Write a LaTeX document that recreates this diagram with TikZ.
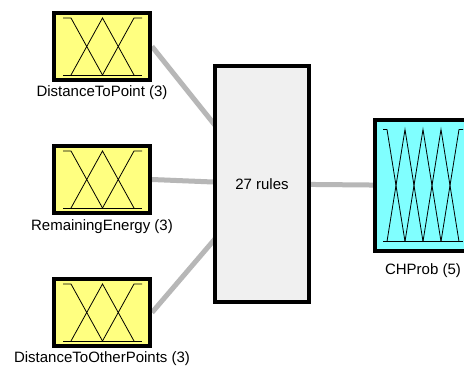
\documentclass[tikz,border=0pt]{standalone}
\usepackage{fontspec}
\setmainfont{Liberation Sans}
\usetikzlibrary{backgrounds}
\definecolor{inyellow}{RGB}{255,255,128}
\definecolor{outcyan}{RGB}{128,255,255}
\definecolor{rulegray}{RGB}{240,240,240}
\definecolor{conngray}{RGB}{183,183,183}
\tikzset{
  varbox/.style={draw=black, line width=4pt, rectangle, inner sep=0pt},
  inbox/.style={varbox, fill=inyellow, minimum width=96pt, minimum height=67pt},
  outbox/.style={varbox, fill=outcyan, minimum width=96pt, minimum height=131pt},
  rulebox/.style={varbox, fill=rulegray, minimum width=94pt, minimum height=236pt, font=\fontsize{15}{17}\selectfont},
  varlabel/.style={font=\fontsize{15}{17}\selectfont, inner sep=0pt},
  conn/.style={draw=conngray, line width=5pt},
  mfline/.style={draw=black, line width=0.8pt, line join=miter}
}
\begin{document}
\begin{tikzpicture}[x=1pt, y=-1pt]
\useasboundingbox (0,0) rectangle (464,372);
\clip (0,0) rectangle (464,372);

% input variables
\node[inbox] (in1) at (102,46.5) {};
\node[inbox] (in2) at (102,179.5) {};
\node[inbox] (in3) at (102,312.5) {};
\node[varlabel] (lab1) at (102,92.5) {DistanceToPoint (3)};
\node[varlabel] (lab2) at (102,226.5) {RemainingEnergy (3)};
\node[varlabel] (lab3) at (102,358.5) {DistanceToOtherPoints (3)};

% rules
\node[rulebox] (rules) at (262,184) {27 rules};

% output
\node[outbox] (out) at (423,185.5) {};
\node[varlabel] (lab4) at (423,271) {CHProb (5)};

% membership functions of inputs
\foreach \b in {in1,in2,in3}{
  \begin{scope}[shift={(\b.center)}]
    \draw[mfline] (-39,-28.5) -- (-31,-28.5) -- (0.5,28.5);
    \draw[mfline] (-31,28.5) -- (0.5,-28.5) -- (32,28.5);
    \draw[mfline] (0.5,28.5) -- (32,-28.5) -- (40,-28.5);
    \draw[mfline] (-39,28.5) -- (40,28.5);
  \end{scope}
}

% membership functions of output
\begin{scope}[shift={(out.center)}]
  \draw[mfline] (-40,-56) -- (-36,-56) -- (-18,56);
  \draw[mfline] (-36,56) -- (-18,-56) -- (0,56);
  \draw[mfline] (-18,56) -- (0,-56) -- (18,56);
  \draw[mfline] (0,56) -- (18,-56) -- (36,56);
  \draw[mfline] (18,56) -- (36,-56) -- (40,-56);
  \draw[mfline] (-40,56) -- (40,56);
\end{scope}

% connectors
\begin{pgfonlayer}{background}
  \fill[white] (0,0) rectangle (464,372);
  \draw[conn] (in1.east) -- (rules.center);
  \draw[conn] (in2.east) -- (rules.center);
  \draw[conn] (in3.east) -- (rules.center);
  \draw[conn] (rules.center) -- (out.center);
\end{pgfonlayer}
\end{tikzpicture}
\end{document}
